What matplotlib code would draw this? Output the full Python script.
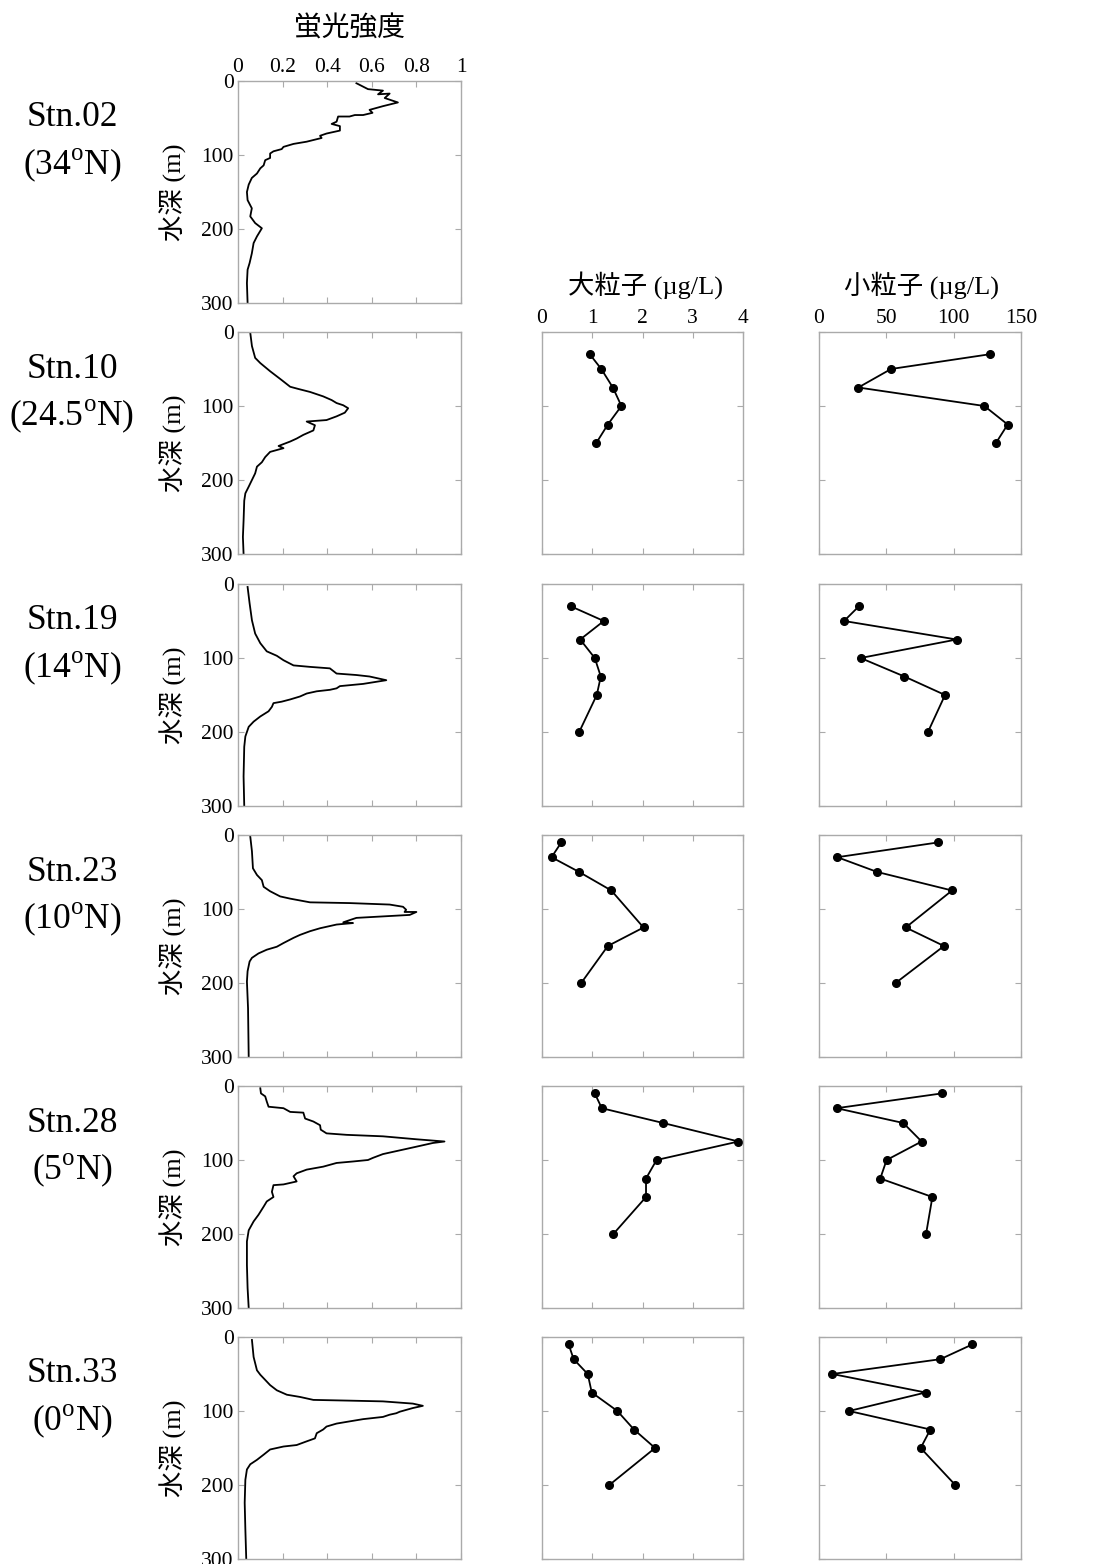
import matplotlib
matplotlib.use("Agg")
import matplotlib.pyplot as plt
import numpy as np

plt.rcParams['font.family'] = ['Liberation Serif', 'Noto Sans CJK JP', 'DejaVu Sans']
plt.rcParams['mathtext.fontset'] = 'custom'
plt.rcParams['mathtext.rm'] = 'Liberation Serif'

# ---------------- data ----------------
stations = ["Stn.02", "Stn.10", "Stn.19", "Stn.23", "Stn.28", "Stn.33"]
latitudes = ["34", "24.5", "14", "10", "5", "0"]

# fluorescence profiles (value, depth m)
fl02_val = [0.531, 0.583, 0.65, 0.628, 0.68, 0.658, 0.717, 0.65, 0.59, 0.603, 0.561, 0.524, 0.50, 0.449,
            0.442, 0.42, 0.457, 0.457, 0.397, 0.368, 0.375, 0.308, 0.249, 0.204, 0.196, 0.159, 0.144,
            0.144, 0.122, 0.115, 0.10, 0.085, 0.062, 0.048, 0.04, 0.043, 0.062, 0.055, 0.077, 0.107,
            0.085, 0.07, 0.062, 0.052, 0.043, 0.04, 0.043]
fl02_dep = [3, 11, 13, 18, 17, 23, 29, 34, 39, 43, 46, 46, 48, 48, 55, 58, 61, 67, 71, 74, 77, 82, 85,
            89, 92, 95, 98, 104, 107, 114, 118, 125, 131, 140, 150, 161, 172, 183, 192, 199, 210, 219,
            233, 246, 255, 273, 300]

fl10_val = [0.055, 0.0625, 0.077, 0.10, 0.144, 0.196, 0.234, 0.271, 0.323, 0.382, 0.42, 0.442, 0.472,
            0.494, 0.479, 0.442, 0.397, 0.308, 0.345, 0.338, 0.293, 0.263, 0.234, 0.182, 0.204, 0.144,
            0.122, 0.107, 0.085, 0.077, 0.0625, 0.048, 0.033, 0.028, 0.025, 0.022, 0.025]
fl10_dep = [1, 19, 35, 42, 53, 65, 74, 77, 81, 87, 92, 96, 99, 103, 109, 114, 119, 121, 126, 133, 139,
            144, 148, 154, 157, 162, 169, 176, 182, 191, 200, 209, 218, 228, 255, 277, 300]

fl19_val = [0.043, 0.052, 0.0625, 0.077, 0.10, 0.129, 0.174, 0.204, 0.249, 0.323, 0.412, 0.442, 0.531,
            0.59, 0.665, 0.561, 0.457, 0.442, 0.412, 0.353, 0.308, 0.278, 0.234, 0.196, 0.159, 0.152,
            0.137, 0.10, 0.07, 0.048, 0.033, 0.028, 0.025, 0.028]
fl19_dep = [4, 26, 49, 67, 80, 91, 97, 103, 110, 112, 114, 121, 123, 125, 130, 135, 138, 141, 143, 145,
            148, 152, 156, 159, 161, 166, 172, 179, 186, 193, 206, 220, 260, 300]

fl23_val = [0.055, 0.0625, 0.067, 0.085, 0.107, 0.115, 0.144, 0.189, 0.234, 0.323, 0.501, 0.68, 0.74,
            0.754, 0.747, 0.80, 0.77, 0.65, 0.531, 0.501, 0.472, 0.516, 0.442, 0.368, 0.323, 0.278,
            0.249, 0.204, 0.174, 0.129, 0.092, 0.0625, 0.052, 0.043, 0.04, 0.045, 0.048]
fl23_dep = [2, 22, 45, 54, 61, 70, 76, 83, 86, 91, 92, 94, 97, 101, 104, 104, 108, 110, 112, 115, 118,
            119, 121, 126, 130, 135, 139, 146, 151, 155, 160, 166, 171, 184, 198, 234, 300]

fl28_val = [0.10, 0.103, 0.122, 0.129, 0.137, 0.204, 0.234, 0.293, 0.301, 0.338, 0.368, 0.371, 0.397,
            0.487, 0.65, 0.80, 0.926, 0.874, 0.80, 0.74, 0.65, 0.606, 0.583, 0.516, 0.442, 0.382,
            0.308, 0.263, 0.249, 0.263, 0.204, 0.159, 0.152, 0.159, 0.129, 0.115, 0.092, 0.07, 0.048,
            0.04, 0.04, 0.043, 0.048]
fl28_dep = [3, 10, 14, 21, 28, 30, 35, 36, 44, 48, 53, 59, 64, 66, 68, 72, 75, 77, 82, 86, 92, 97, 100,
            102, 104, 109, 113, 118, 122, 129, 133, 134, 143, 150, 156, 163, 174, 183, 195, 210, 242,
            273, 300]

fl33_val = [0.0625, 0.07, 0.085, 0.10, 0.122, 0.144, 0.174, 0.219, 0.278, 0.338, 0.501, 0.65, 0.784,
            0.829, 0.784, 0.725, 0.71, 0.68, 0.65, 0.561, 0.501, 0.442, 0.397, 0.382, 0.353, 0.345,
            0.308, 0.263, 0.204, 0.144, 0.115, 0.085, 0.055, 0.04, 0.033, 0.03, 0.033, 0.037]
fl33_dep = [4, 27, 45, 51, 58, 65, 72, 78, 81, 85, 86, 87, 90, 93, 96, 101, 103, 105, 108, 111, 114,
            117, 121, 125, 130, 137, 141, 146, 148, 152, 159, 166, 172, 179, 193, 224, 260, 300]

# particle samples (depth m, large µg/L, small µg/L)
p10_dep = [30, 50, 75, 100, 125, 150]
p10_large = [0.95, 1.18, 1.41, 1.58, 1.31, 1.08]
p10_small = [127.0, 53.5, 29.2, 122.8, 140.1, 131.4]

p19_dep = [30, 50, 75, 100, 125, 150, 200]
p19_large = [0.57, 1.23, 0.76, 1.05, 1.17, 1.09, 0.74]
p19_small = [29.7, 18.6, 102.2, 30.9, 63.4, 93.6, 80.9]

p23_dep = [10, 30, 50, 75, 125, 150, 200]
p23_large = [0.385, 0.19, 0.74, 1.38, 2.02, 1.31, 0.78]
p23_small = [88.6, 13.6, 43.3, 98.8, 64.4, 92.8, 56.9]

p28_dep = [10, 30, 50, 75, 100, 125, 150, 200]
p28_large = [1.05, 1.19, 2.41, 3.91, 2.28, 2.07, 2.07, 1.42]
p28_small = [91.3, 13.1, 62.6, 76.2, 50.2, 45.5, 84.2, 79.5]

p33_dep = [10, 30, 50, 75, 100, 125, 150, 200]
p33_large = [0.53, 0.63, 0.91, 0.99, 1.50, 1.83, 2.25, 1.34]
p33_small = [113.9, 90.1, 9.9, 79.2, 22.3, 82.7, 75.5, 101.2]

fl_vals = [fl02_val, fl10_val, fl19_val, fl23_val, fl28_val, fl33_val]
fl_deps = [fl02_dep, fl10_dep, fl19_dep, fl23_dep, fl28_dep, fl33_dep]
part_deps = [None, p10_dep, p19_dep, p23_dep, p28_dep, p33_dep]
part_large = [None, p10_large, p19_large, p23_large, p28_large, p33_large]
part_small = [None, p10_small, p19_small, p23_small, p28_small, p33_small]

depth_ticks = [0, 100, 200, 300]
fl_ticks = [0, 0.2, 0.4, 0.6, 0.8, 1]
fl_ticklabels = ["0", "0.2", "0.4", "0.6", "0.8", "1"]
large_ticks = [0, 1, 2, 3, 4]
small_ticks = [0, 50, 100, 150]

# ---------------- layout ----------------
W, H = 1101, 1564
fig = plt.figure(figsize=(W / 100, H / 100), dpi=100)

def ax_at(x0, y0, w, h):
    return fig.add_axes([x0 / W, 1 - (y0 + h) / H, w / W, h / H])

def ftext(x, y, s, **kw):
    return fig.text(x / W, 1 - y / H, s, **kw)

row_tops = [81, 332, 584, 835, 1086, 1337]
row_h = 222
cols = [(238, 223), (542, 201), (819, 202)]
spine_c = '#aaaaaa'
tick_fs = 15.5
lw = 1.3

def style(ax, xlim, xticks, show_x, show_y):
    ax.set_ylim(300, 0)
    ax.set_xlim(*xlim)
    ax.set_yticks(depth_ticks)
    ax.set_xticks(xticks)
    for s in ax.spines.values():
        s.set_color(spine_c)
        s.set_linewidth(1.0)
    ax.tick_params(direction='in', length=4, width=0.8, color=spine_c,
                   top=True, right=True, bottom=True, left=True,
                   labeltop=show_x, labelbottom=False,
                   labelleft=show_y, labelright=False,
                   labelsize=tick_fs, pad=3)

for i in range(6):
    top = row_tops[i]
    # fluorescence
    x0, w = cols[0]
    ax = ax_at(x0, top, w, row_h)
    ax.plot(fl_vals[i], fl_deps[i], color='black', lw=lw)
    style(ax, (0, 1), fl_ticks, i == 0, True)
    if i == 0:
        ax.set_xticklabels(fl_ticklabels)
    ax.set_ylabel("水深 (m)", fontsize=19, labelpad=10)
    # station label
    ftext(72, top + 37, stations[i], fontsize=25.5, ha='center', va='center')
    ftext(72, top + 84, "(" + latitudes[i] + r"$^{\mathrm{o}}$N)",
          fontsize=25.5, ha='center', va='center')
    if i == 0:
        continue
    # large particles
    x0, w = cols[1]
    ax2 = ax_at(x0, top, w, row_h)
    ax2.plot(part_large[i], part_deps[i], color='black', lw=lw, marker='o', ms=5.5)
    style(ax2, (0, 4), large_ticks, i == 1, False)
    # small particles
    x0, w = cols[2]
    ax3 = ax_at(x0, top, w, row_h)
    ax3.plot(part_small[i], part_deps[i], color='black', lw=lw, marker='o', ms=5.5)
    style(ax3, (0, 150), small_ticks, i == 1, False)

ftext(350, 30, "蛍光強度", fontsize=20, ha='center', va='center')
ftext(645, 285, "大粒子 (µg/L)", fontsize=19, ha='center', va='center')
ftext(921, 285, "小粒子 (µg/L)", fontsize=19, ha='center', va='center')

fig.savefig("out.png", dpi=100, facecolor='white')
